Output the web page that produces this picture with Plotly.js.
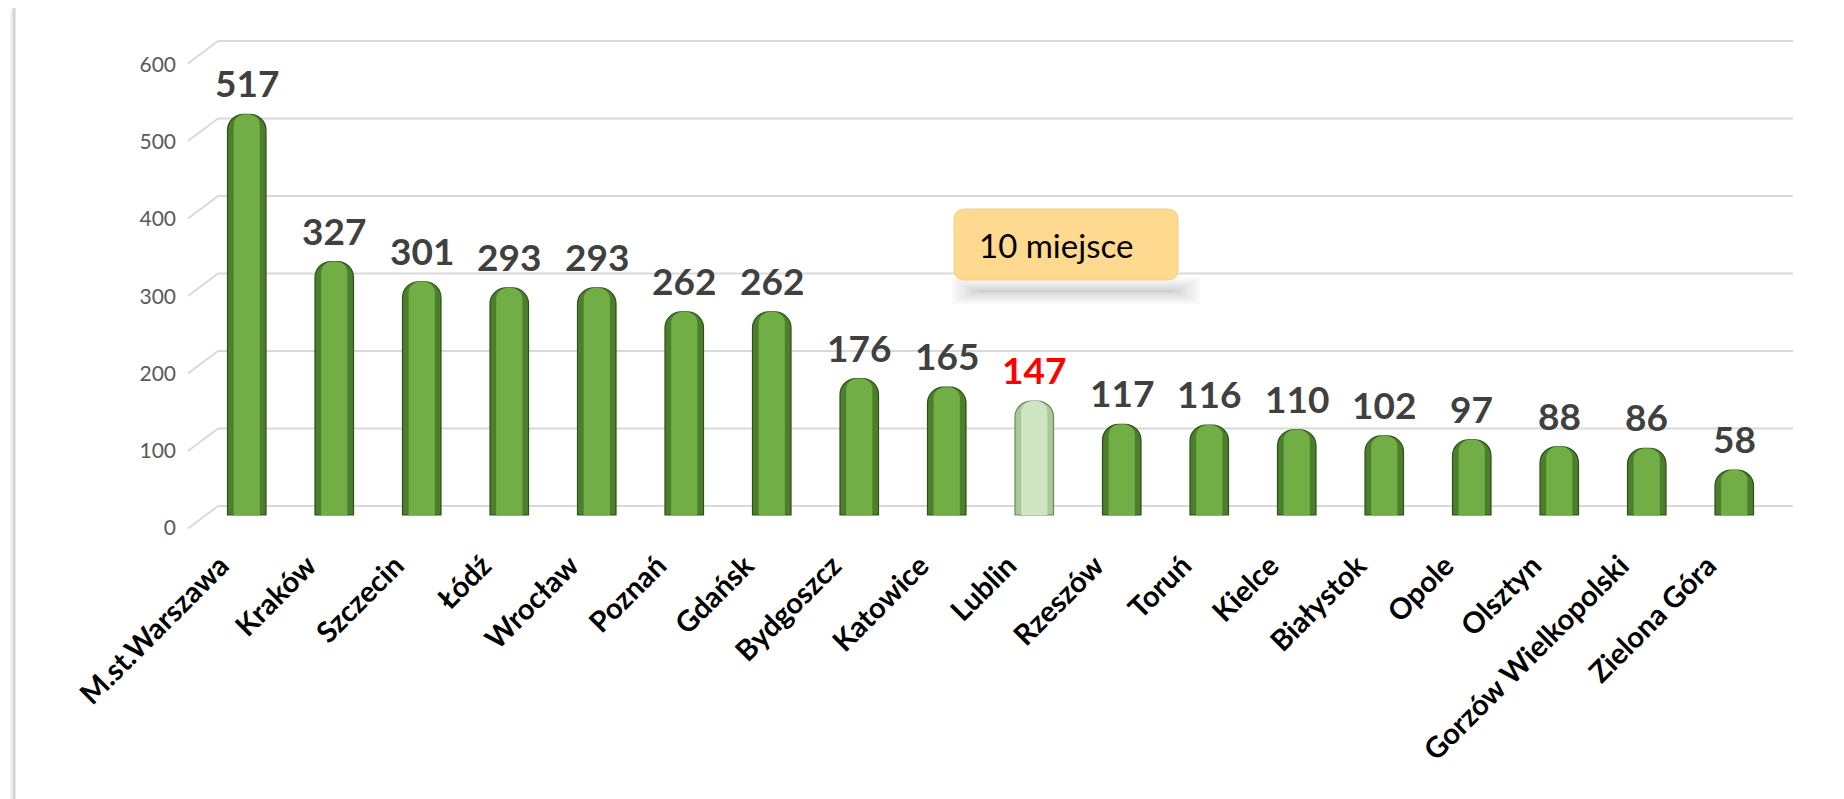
<!DOCTYPE html>
<html>
<head>
<meta charset="utf-8">
<script src="https://cdn.plot.ly/plotly-3.0.1.min.js"></script>
<style>
  html, body { margin: 0; padding: 0; background: #ffffff; }
  #chart { width: 1844px; height: 799px; }
</style>
</head>
<body>
<div id="chart"></div>
<script>
// ---- data ----
const cities = ["M.st.Warszawa", "Kraków", "Szczecin", "Łódź", "Wrocław", "Poznań", "Gdańsk",
  "Bydgoszcz", "Katowice", "Lublin", "Rzeszów", "Toruń", "Kielce", "Białystok", "Opole",
  "Olsztyn", "Gorzów Wielkopolski", "Zielona Góra"];
const values = [517, 327, 301, 293, 293, 262, 262, 176, 165, 147, 117, 116, 110, 102, 97, 88, 86, 58];
const highlightCity = "Lublin";
const calloutText = "10 miejsce";
const yTicks = [0, 100, 200, 300, 400, 500, 600];

// ---- layout geometry (pixels) ----
const W = 1844, H = 799;
const plotL = 203, plotR = 1778, plotT = 30, plotB = 540;
const nCat = cities.length;
const catPx = (plotR - plotL) / nCat;
const k = 0.775;            // px per unit
const zeroBar = 515, zeroGrid = 506, zeroLab = 528, kLab = 0.7725;
const depth = 15;           // 3D offset in px
const labelShift = 0.30;    // category label offset (in category units)

const X = px => (px - plotL) / catPx - 0.5;       // px -> x data
const Y = py => (zeroBar - py) / k;               // px -> y data
const PX = px => (px - plotL) / (plotR - plotL);  // px -> paper x
const PY = py => (plotB - py) / (plotB - plotT);  // px -> paper y

const isHi = cities.map(c => c === highlightCity);
const idx = cities.map((c, i) => i);

const baseTrace = {
  type: 'bar', x: idx, y: values, width: 0.44,
  marker: {
    color: isHi.map(h => h ? '#a9c998' : '#4b7f2c'),
    line: { color: isHi.map(h => h ? '#6b8a5c' : '#2e4f1b'), width: 1.2 },
    cornerradius: 16
  },
  hovertext: cities, hoverinfo: 'text+y'
};
const shineTrace = {
  type: 'bar', x: idx, y: values, width: 0.30,
  marker: {
    color: isHi.map(h => h ? '#cfe5c1' : '#71ae45'),
    line: { width: 0 },
    cornerradius: 11
  },
  hoverinfo: 'skip'
};

// ---- shapes: grid (3D back wall), side diagonals, border, callout ----
const shapes = [];
yTicks.forEach(t => {
  shapes.push({ type: 'line', layer: 'below', xref: 'paper', yref: 'y3',
    x0: PX(plotL + depth), x1: PX(plotR + depth), y0: t, y1: t,
    line: { color: '#d9d9d9', width: 2 } });
  shapes.push({ type: 'line', layer: 'below', xref: 'paper', yref: 'y3',
    x0: PX(plotL - depth), x1: PX(plotL + depth), y0: t - 2 * depth / k * 0.75, y1: t,
    line: { color: '#d9d9d9', width: 2 } });
});
// left border shadow
shapes.push({ type: 'line', xref: 'paper', yref: 'paper', x0: PX(14), x1: PX(14), y0: PY(8), y1: PY(H),
  line: { color: '#d4d4d4', width: 3 } });
shapes.push({ type: 'line', xref: 'paper', yref: 'paper', x0: PX(11.5), x1: PX(11.5), y0: PY(10), y1: PY(H),
  line: { color: '#ececec', width: 2 } });

// callout soft shadow (layered)
for (let j = 0; j < 7; j++) {
  const inset = j * 3;
  shapes.push({ type: 'rect', xref: 'x', yref: 'y', layer: 'below',
    x0: X(952 + inset * 1.5), x1: X(1200 - inset * 1.5), y0: Y(304 - inset * 0.8), y1: Y(278 + inset * 0.8),
    fillcolor: 'rgba(0,0,0,0.028)', line: { width: 0 } });
}
// callout rounded box
(function () {
  const l = 954, r = 1178, t = 209, b = 280, rad = 11;
  const p = [
    'M', X(l + rad), Y(t), 'L', X(r - rad), Y(t), 'Q', X(r), Y(t), X(r), Y(t + rad),
    'L', X(r), Y(b - rad), 'Q', X(r), Y(b), X(r - rad), Y(b),
    'L', X(l + rad), Y(b), 'Q', X(l), Y(b), X(l), Y(b - rad),
    'L', X(l), Y(t + rad), 'Q', X(l), Y(t), X(l + rad), Y(t), 'Z'
  ];
  let d = '';
  for (let i = 0; i < p.length; i++) {
    d += (typeof p[i] === 'string') ? p[i] + ' ' : p[i] + (typeof p[i + 1] === 'number' ? ',' : ' ');
  }
  shapes.push({ type: 'path', xref: 'x', yref: 'y', path: d,
    fillcolor: '#ffd990', line: { color: '#f6cf82', width: 1 } });
})();

// ---- annotations: value labels + callout text ----
const annotations = values.map((v, i) => ({
  x: i, y: v, xref: 'x', yref: 'y', text: String(v), showarrow: false,
  yanchor: 'bottom', yshift: 7,
  font: { family: 'Lato, sans-serif', size: 37, weight: 700, color: isHi[i] ? '#ff0000' : '#404040' }
}));
annotations.push({ x: X(977), y: Y(245), xref: 'x', yref: 'y', text: calloutText, showarrow: false,
  xanchor: 'left', yanchor: 'middle',
  font: { family: 'Lato, sans-serif', size: 33, color: '#000000' } });

const layout = {
  width: W, height: H,
  margin: { l: plotL, r: W - plotR, t: plotT, b: H - plotB, pad: 0 },
  paper_bgcolor: '#ffffff', plot_bgcolor: 'rgba(0,0,0,0)',
  barmode: 'overlay', showlegend: false,
  font: { family: 'Lato, sans-serif' },
  xaxis: {
    range: [-0.5, nCat - 0.5], showticklabels: false,
    ticks: '', showgrid: false, zeroline: false, showline: false
  },
  xaxis2: {
    overlaying: 'x', anchor: 'y', side: 'bottom',
    range: [-0.5 + labelShift, nCat - 0.5 + labelShift],
    tickvals: idx, ticktext: cities, tickangle: -45,
    tickfont: { family: 'Lato, sans-serif', size: 29, weight: 700, color: '#000000' },
    ticks: '', showgrid: false, zeroline: false, showline: false, ticklabelstandoff: 2
  },
  yaxis: {
    range: [(zeroBar - plotB) / k, (zeroBar - plotT) / k],
    showticklabels: false, showgrid: false, zeroline: false, showline: false, ticks: ''
  },
  yaxis2: {
    overlaying: 'y', side: 'left', anchor: 'x',
    range: [(zeroLab - plotB) / kLab, (zeroLab - plotT) / kLab],
    tickvals: yTicks, ticktext: yTicks.map(String), ticks: '',
    tickfont: { family: 'Lato, sans-serif', size: 21, color: '#595959' },
    showgrid: false, zeroline: false, showline: false, ticklabelstandoff: 26
  },
  yaxis3: {
    overlaying: 'y', side: 'left', anchor: 'x',
    range: [(zeroGrid - plotB) / k, (zeroGrid - plotT) / k],
    showticklabels: false, showgrid: false, zeroline: false, showline: false, ticks: ''
  },
  shapes: shapes,
  annotations: annotations
};

// empty carriers so that the helper axes exist
const axisTrace2 = { type: 'scatter', x: [], y: [], yaxis: 'y2', hoverinfo: 'skip' };
const axisTrace3 = { type: 'scatter', x: [], y: [], yaxis: 'y3', hoverinfo: 'skip' };
const axisTraceX = { type: 'scatter', x: [], y: [], xaxis: 'x2', hoverinfo: 'skip' };

Plotly.newPlot('chart', [axisTrace2, axisTrace3, axisTraceX, baseTrace, shineTrace], layout,
  { staticPlot: true, displayModeBar: false });
</script>
</body>
</html>
